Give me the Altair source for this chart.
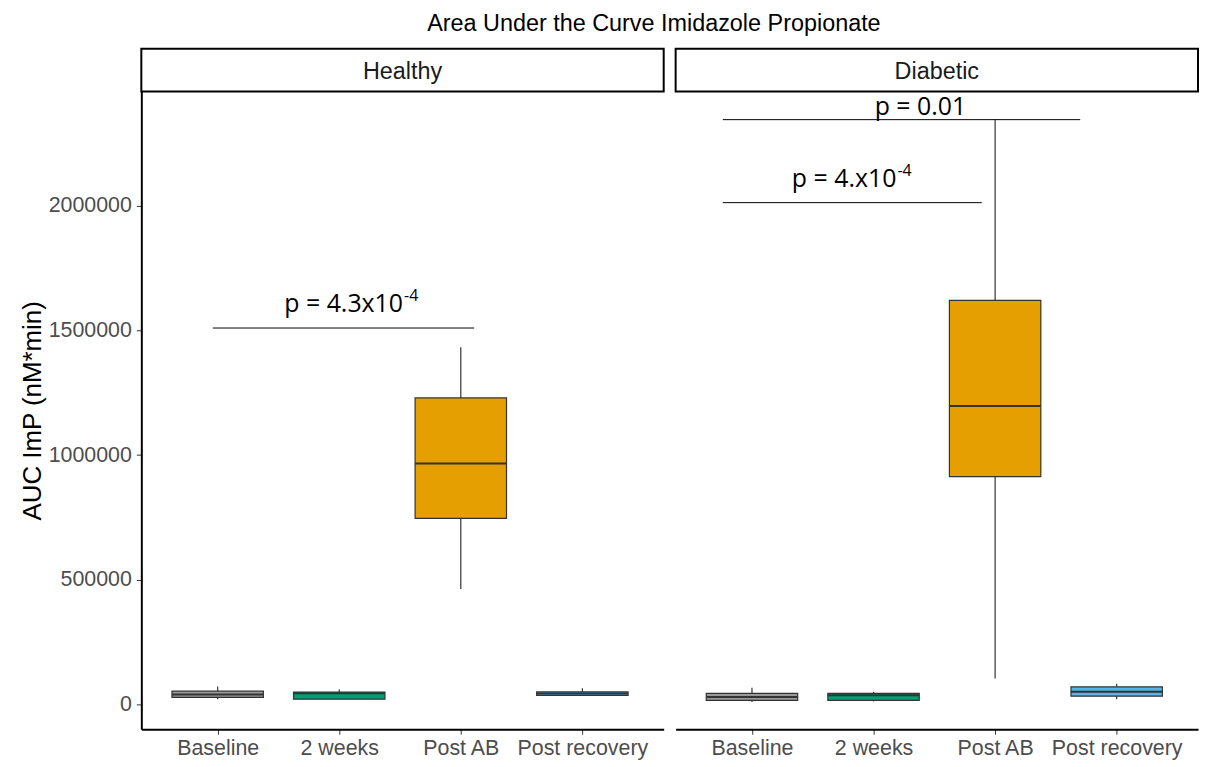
import json
import altair as alt
import pandas as pd

title_text = "Area Under the Curve Imidazole Propionate"
y_title = "AUC ImP (nM*min)"
groups = ["Healthy", "Diabetic"]
timepoints = ["Baseline", "2 weeks", "Post AB", "Post recovery"]
fill_colors = ["#999999", "#009E73", "#E69F00", "#56B4E9"]
y_ticks = [0, 500000, 1000000, 1500000, 2000000]

healthy_lo = [21000, 21000, 463000, 36000]
healthy_q1 = [28000, 21000, 746500, 36000]
healthy_med = [40000, 45000, 966000, 44000]
healthy_q3 = [53000, 49000, 1229500, 50000]
healthy_hi = [72000, 60000, 1433000, 65000]

diabetic_lo = [10000, 12000, 103800, 21000]
diabetic_q1 = [16000, 16000, 914000, 33000]
diabetic_med = [30000, 37000, 1197600, 50500]
diabetic_q3 = [44000, 44000, 1620800, 70500]
diabetic_hi = [66500, 50500, 2347000, 82500]

ann_group = ["Healthy", "Diabetic", "Diabetic"]
ann_from = [-0.04, -0.24, -0.24]
ann_to = [2.11, 1.89, 2.70]
ann_y = [1510000, 2013000, 2346000]
ann_label = ["p = 4.3x10", "p = 4.x10", "p = 0.01"]
ann_sup = ["-4", "-4", ""]
ann_label_x = [1.525, 1.188, 1.762]
ann_label_y = [1574000, 2076000, 2366000]

rows = []
for g, lo, q1, med, q3, hi in [
    ("Healthy", healthy_lo, healthy_q1, healthy_med, healthy_q3, healthy_hi),
    ("Diabetic", diabetic_lo, diabetic_q1, diabetic_med, diabetic_q3, diabetic_hi),
]:
    for i, t in enumerate(timepoints):
        rows.append(dict(group=g, timepoint=t, idx=i, lo=lo[i], q1=q1[i],
                         med=med[i], q3=q3[i], hi=hi[i]))
box_df = pd.DataFrame(rows)
ann_df = pd.DataFrame(dict(group=ann_group, x1=ann_from, x2=ann_to, y=ann_y,
                           label=ann_label, sup=ann_sup, lx=ann_label_x, ly=ann_label_y))

PW = 525
PH = 641
HALF = 0.376
FONT = "Liberation Sans"

x_scale = alt.Scale(domain=[-0.628, 3.669], nice=False, zero=False)
y_scale = alt.Scale(domain=[-99800, 2459000], nice=False, zero=False)
label_expr = json.dumps(timepoints) + "[datum.value]"

x_axis = alt.Axis(values=[0, 1, 2, 3], labelExpr=label_expr, title=None, grid=False,
                  domainColor="black", domainWidth=2, tickColor="#333333", tickSize=5,
                  labelFontSize=21.5, labelColor="#4D4D4D", labelFont=FONT,
                  labelPadding=3, labelFlush=False, labelOverlap=False)


def panel(g, show_y):
    if show_y:
        y_axis = alt.Axis(values=y_ticks, format="d", title=y_title, titleFontSize=26,
                          titleFont=FONT, titleFontWeight="normal", titleColor="black",
                          titlePadding=3, grid=False, domainColor="black", domainWidth=2,
                          tickColor="#333333", tickSize=5, labelFontSize=21.5,
                          labelColor="#4D4D4D", labelFont=FONT, labelPadding=5,
                          labelFlush=False)
    else:
        y_axis = None
    base = alt.Chart(box_df).transform_filter(alt.datum.group == g).transform_calculate(
        xl=alt.datum.idx - HALF, xr=alt.datum.idx + HALF)
    whisk_lo = base.mark_rule(color="#333333", strokeWidth=1.2).encode(
        x=alt.X("idx:Q", scale=x_scale, axis=x_axis),
        y=alt.Y("lo:Q", scale=y_scale, axis=y_axis), y2="q1:Q")
    whisk_hi = base.mark_rule(color="#333333", strokeWidth=1.2).encode(
        x=alt.X("idx:Q", scale=x_scale), y=alt.Y("q3:Q", scale=y_scale), y2="hi:Q")
    box = base.mark_bar(stroke="#333333", strokeWidth=1.2).encode(
        x=alt.X("xl:Q", scale=x_scale), x2="xr:Q",
        y=alt.Y("q1:Q", scale=y_scale), y2="q3:Q",
        color=alt.Color("timepoint:N", scale=alt.Scale(domain=timepoints, range=fill_colors),
                        legend=None))
    med = base.mark_rule(color="#333333", strokeWidth=2).encode(
        x=alt.X("xl:Q", scale=x_scale), x2="xr:Q", y=alt.Y("med:Q", scale=y_scale))

    abase = alt.Chart(ann_df).transform_filter(alt.datum.group == g)
    a_rule = abase.mark_rule(color="black", strokeWidth=1).encode(
        x=alt.X("x1:Q", scale=x_scale), x2="x2:Q", y=alt.Y("y:Q", scale=y_scale))
    a_text = abase.mark_text(font="Open Sans", fontSize=25, align="right",
                             baseline="alphabetic", color="black").encode(
        x=alt.X("lx:Q", scale=x_scale), y=alt.Y("ly:Q", scale=y_scale), text="label:N")
    a_sup = abase.transform_filter(alt.datum.sup != "").mark_text(
        font="Open Sans", fontSize=16, align="left", baseline="alphabetic",
        color="black", dx=1, dy=-11).encode(
        x=alt.X("lx:Q", scale=x_scale), y=alt.Y("ly:Q", scale=y_scale), text="sup:N")

    sdf = pd.DataFrame({"group": [g]})
    s_rect = alt.Chart(sdf).mark_rect(fill="white", stroke="black", strokeWidth=2).encode(
        x=alt.value(0), x2=alt.value(PW), y=alt.value(-43), y2=alt.value(0))
    s_text = alt.Chart(sdf).mark_text(font=FONT, fontSize=23.5, color="#1A1A1A",
                                      baseline="middle").encode(
        x=alt.value(PW / 2), y=alt.value(-20), text="group:N")

    return alt.layer(whisk_lo, whisk_hi, box, med, a_rule, a_text, a_sup,
                     s_rect, s_text).properties(width=PW, height=PH)


chart = alt.hconcat(panel("Healthy", True), panel("Diabetic", False), spacing=10).properties(
    title=alt.TitleParams(text=title_text, fontSize=23.5, font=FONT, fontWeight="normal",
                          color="black", anchor="middle", offset=12, dx=45),
    padding={"left": 11, "top": 2, "right": 0, "bottom": 0},
).configure_view(stroke=None)

chart.save("out.html", embed_options={"renderer": "svg", "actions": False})
